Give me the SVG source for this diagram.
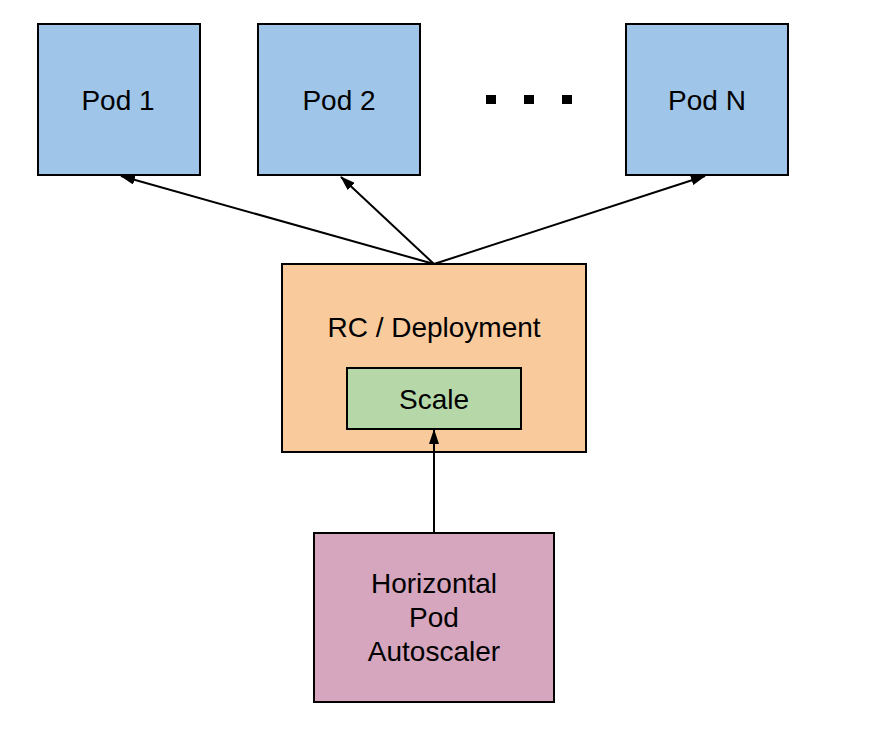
<svg xmlns="http://www.w3.org/2000/svg" width="888" height="738" viewBox="0 0 888 738">
<defs>
<style>
.box{stroke:#000;stroke-width:2}
.pod{fill:#9fc5e8}
.t{font-family:"Liberation Sans",Arial,sans-serif;font-size:28px;fill:#000;text-anchor:middle}
.c{stroke:#000;stroke-width:2;fill:none;marker-end:url(#ah)}
</style>
<marker id="ah" viewBox="0 0 15 10" refX="14" refY="5" markerWidth="15" markerHeight="10" orient="auto" markerUnits="userSpaceOnUse">
<path d="M0,0 L15,5 L0,10 z" fill="#000"/>
</marker>
</defs>
<rect width="888" height="738" fill="#fff"/>
<g id="pod1"><rect class="box pod" x="38" y="24" width="162" height="151"/><text class="t" x="118" y="110">Pod 1</text></g>
<g id="pod2"><rect class="box pod" x="258" y="24" width="162" height="151"/><text class="t" x="339" y="110">Pod 2</text></g>
<g id="ellipsis"><rect x="486" y="95" width="10" height="9" fill="#000"/><rect x="524" y="95" width="10" height="9" fill="#000"/><rect x="562" y="95" width="10" height="9" fill="#000"/></g>
<g id="podN"><rect class="box pod" x="626" y="24" width="162" height="151"/><text class="t" x="707" y="110">Pod N</text></g>
<g id="rc"><rect class="box" fill="#f9cb9c" x="282" y="264" width="304" height="188"/><text class="t" x="434" y="337">RC / Deployment</text></g>
<g id="scale"><rect class="box" fill="#b6d7a8" x="347" y="368" width="174" height="61"/><text class="t" x="434" y="409">Scale</text></g>
<g id="hpa"><rect class="box" fill="#d5a6bd" x="314" y="533" width="240" height="169"/><text class="t" x="434" y="593">Horizontal</text><text class="t" x="434" y="627">Pod</text><text class="t" x="434" y="661">Autoscaler</text></g>
<g id="connectors">
<line class="c" x1="434" y1="264" x2="121" y2="176"/>
<line class="c" x1="434" y1="264" x2="341" y2="177"/>
<line class="c" x1="434" y1="264" x2="705" y2="176"/>
<line class="c" x1="434" y1="532" x2="434" y2="430"/>
</g>
</svg>
